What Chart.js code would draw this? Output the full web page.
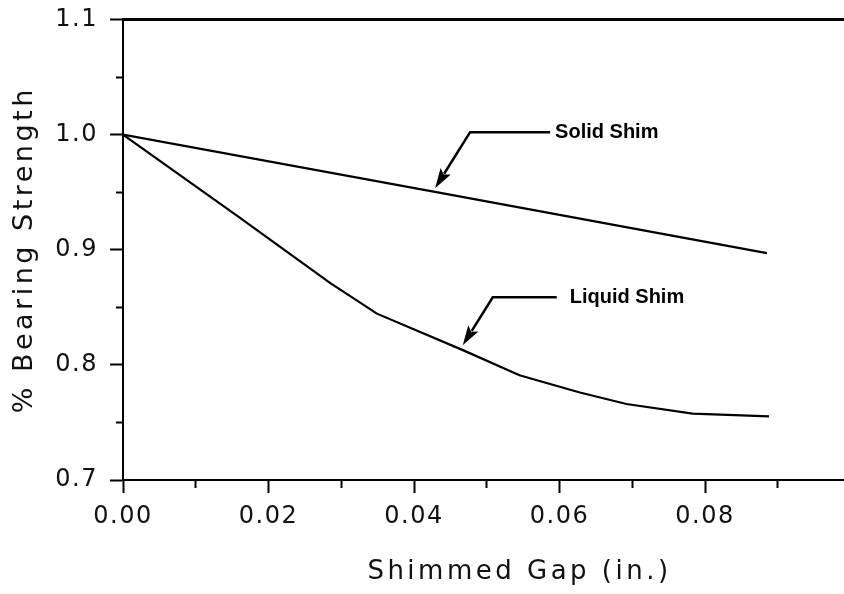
<!DOCTYPE html>
<html><head><meta charset="utf-8">
<script src="https://cdn.jsdelivr.net/npm/chart.js@4.4.1/dist/chart.umd.min.js"></script>
<style>html,body{margin:0;padding:0;background:#fff;overflow:hidden;width:844px;height:594px}canvas{display:block}</style>
</head><body>
<canvas id="c" width="916" height="594"></canvas>
<script>
// ---- data ----
const solidGap = [0.0, 0.0440, 0.0885];
const solidStrength = [1.000, 0.949, 0.897];
const liquidGap = [0.0, 0.0158, 0.0285, 0.0349, 0.0468, 0.0545, 0.0628, 0.0692, 0.0783, 0.0888];
const liquidStrength = [1.000, 0.929, 0.871, 0.8445, 0.8126, 0.791, 0.776, 0.766, 0.7576, 0.7552];
const xTickLabels = ['0.00', '0.02', '0.04', '0.06', '0.08'];
const yTickLabels = ['0.7', '0.8', '0.9', '1.0', '1.1'];
const seriesNames = ['Solid Shim', 'Liquid Shim'];
const xTitle = 'Shimmed Gap (in.)';
const yTitle = '% Bearing Strength';
// arrow tips of the two callouts (data units)
const calloutGap = [0.0429, 0.0467];
const calloutStrength = [0.9535, 0.817];

// ---- styling ----
const calloutStyle = [
  {elbowDx: 35, elbowDy: -56, endDx: 115, textGap: 5},
  {elbowDx: 30, elbowDy: -48, endDx: 94, textGap: 13}
];
const FONT = 'DejaVu Sans';
const INK = '#000';

function xLabel(v) { const s = v.toFixed(2); return xTickLabels.includes(s) ? s : ''; }
function yLabel(v) { if (Math.abs(v * 10 - Math.round(v * 10)) > 1e-6) return ''; const s = v.toFixed(1); return yTickLabels.includes(s) ? s : ''; }

const toPts = (xs, ys) => xs.map((x, i) => ({x, y: ys[i]}));

const spacingPlugin = {
  id: 'spacing',
  afterUpdate(chart) {
    Object.values(chart.scales).forEach(s => {
      if (s._patched) return;
      const orig = s.drawTitle;
      s.drawTitle = function () {
        const ctx = this.ctx; ctx.save(); ctx.letterSpacing = '3.5px'; orig.apply(this, arguments); ctx.restore();
      };
      s._patched = true;
    });
  },
  beforeDraw(chart) { chart.ctx.letterSpacing = '1.5px'; }
};

const calloutPlugin = {
  id: 'callouts',
  afterDatasetsDraw(chart) {
    const {ctx} = chart; const xs = chart.scales.x, ys = chart.scales.y;
    ctx.save();
    ctx.letterSpacing = '0px';
    seriesNames.forEach((name, i) => {
      const tx = xs.getPixelForValue(calloutGap[i]), ty = ys.getPixelForValue(calloutStrength[i]);
      const st = calloutStyle[i];
      const ex = tx + st.elbowDx, ey = ty + st.elbowDy, hx = tx + st.endDx;
      const ang = Math.atan2(ty - ey, tx - ex);
      const L = 20, W = 6;
      const bx = tx - L * Math.cos(ang), by = ty - L * Math.sin(ang);
      ctx.strokeStyle = INK; ctx.fillStyle = INK; ctx.lineWidth = 2.5; ctx.lineJoin = 'miter';
      ctx.beginPath(); ctx.moveTo(hx, ey); ctx.lineTo(ex, ey); ctx.lineTo(bx + 3 * Math.cos(ang), by + 3 * Math.sin(ang)); ctx.stroke();
      ctx.beginPath(); ctx.moveTo(tx, ty);
      ctx.lineTo(bx + W * Math.sin(ang), by - W * Math.cos(ang));
      ctx.lineTo(bx + 4 * Math.cos(ang), by + 4 * Math.sin(ang));
      ctx.lineTo(bx - W * Math.sin(ang), by + W * Math.cos(ang));
      ctx.closePath(); ctx.fill();
      ctx.font = 'bold 20px "Liberation Sans"'; ctx.textAlign = 'left'; ctx.textBaseline = 'middle';
      ctx.fillText(name, hx + st.textGap, ey);
    });
    ctx.restore();
  }
};

new Chart(document.getElementById('c'), {
  type: 'line',
  data: {
    datasets: [
      {label: seriesNames[0], data: toPts(solidGap, solidStrength), borderColor: INK, borderWidth: 2.2, pointRadius: 0, tension: 0, fill: false},
      {label: seriesNames[1], data: toPts(liquidGap, liquidStrength), borderColor: INK, borderWidth: 2.2, pointRadius: 0, tension: 0, fill: false}
    ]
  },
  options: {
    responsive: false, animation: false, parsing: true,
    layout: {padding: {top: 19.5, left: 0, right: 0, bottom: 0}},
    plugins: {legend: {display: false}, tooltip: {enabled: false}},
    scales: {
      x: {
        type: 'linear', position: 'bottom', min: 0, max: 0.109,
        afterFit: s => { s.height = 114; s.paddingLeft = 0; s.paddingRight = 0; },
        ticks: {stepSize: 0.01, autoSkip: false, maxRotation: 0, padding: 9, color: '#111', font: {family: FONT, size: 24}, callback: v => xLabel(v)},
        grid: {drawOnChartArea: false, tickLength: 13, tickWidth: 2, tickColor: INK,
               tickBorderDash: c => (c.tick && xLabel(c.tick.value) === '' ) ? [7, 100] : []},
        border: {display: true, color: INK, width: 2},
        title: {display: true, text: xTitle, color: '#111', font: {family: FONT, size: 26}, padding: {top: 0, bottom: 6}}
      },
      x2: {
        type: 'linear', position: 'top', min: 0, max: 0.109,
        afterFit: s => { s.height = 0; s.paddingLeft = 0; s.paddingRight = 0; },
        ticks: {display: false}, grid: {display: false, drawTicks: false},
        border: {display: true, color: INK, width: 3}
      },
      y: {
        type: 'linear', position: 'left', min: 0.7, max: 1.1,
        afterFit: s => { s.width = 123; s.paddingTop = 0; s.paddingBottom = 0; },
        ticks: {stepSize: 0.05, autoSkip: false, padding: 12, color: '#111', font: {family: FONT, size: 24}, callback: v => yLabel(v)},
        grid: {drawOnChartArea: false, tickLength: 13, tickWidth: 2, tickColor: INK,
               tickBorderDash: c => (c.tick && yLabel(c.tick.value) === '') ? [0, 6, 100] : []},
        border: {display: true, color: INK, width: 2},
        title: {display: true, text: yTitle, color: '#111', font: {family: FONT, size: 27}, padding: {top: 9, bottom: 0}}
      }
    }
  },
  plugins: [spacingPlugin, calloutPlugin]
});
</script>
</body></html>
